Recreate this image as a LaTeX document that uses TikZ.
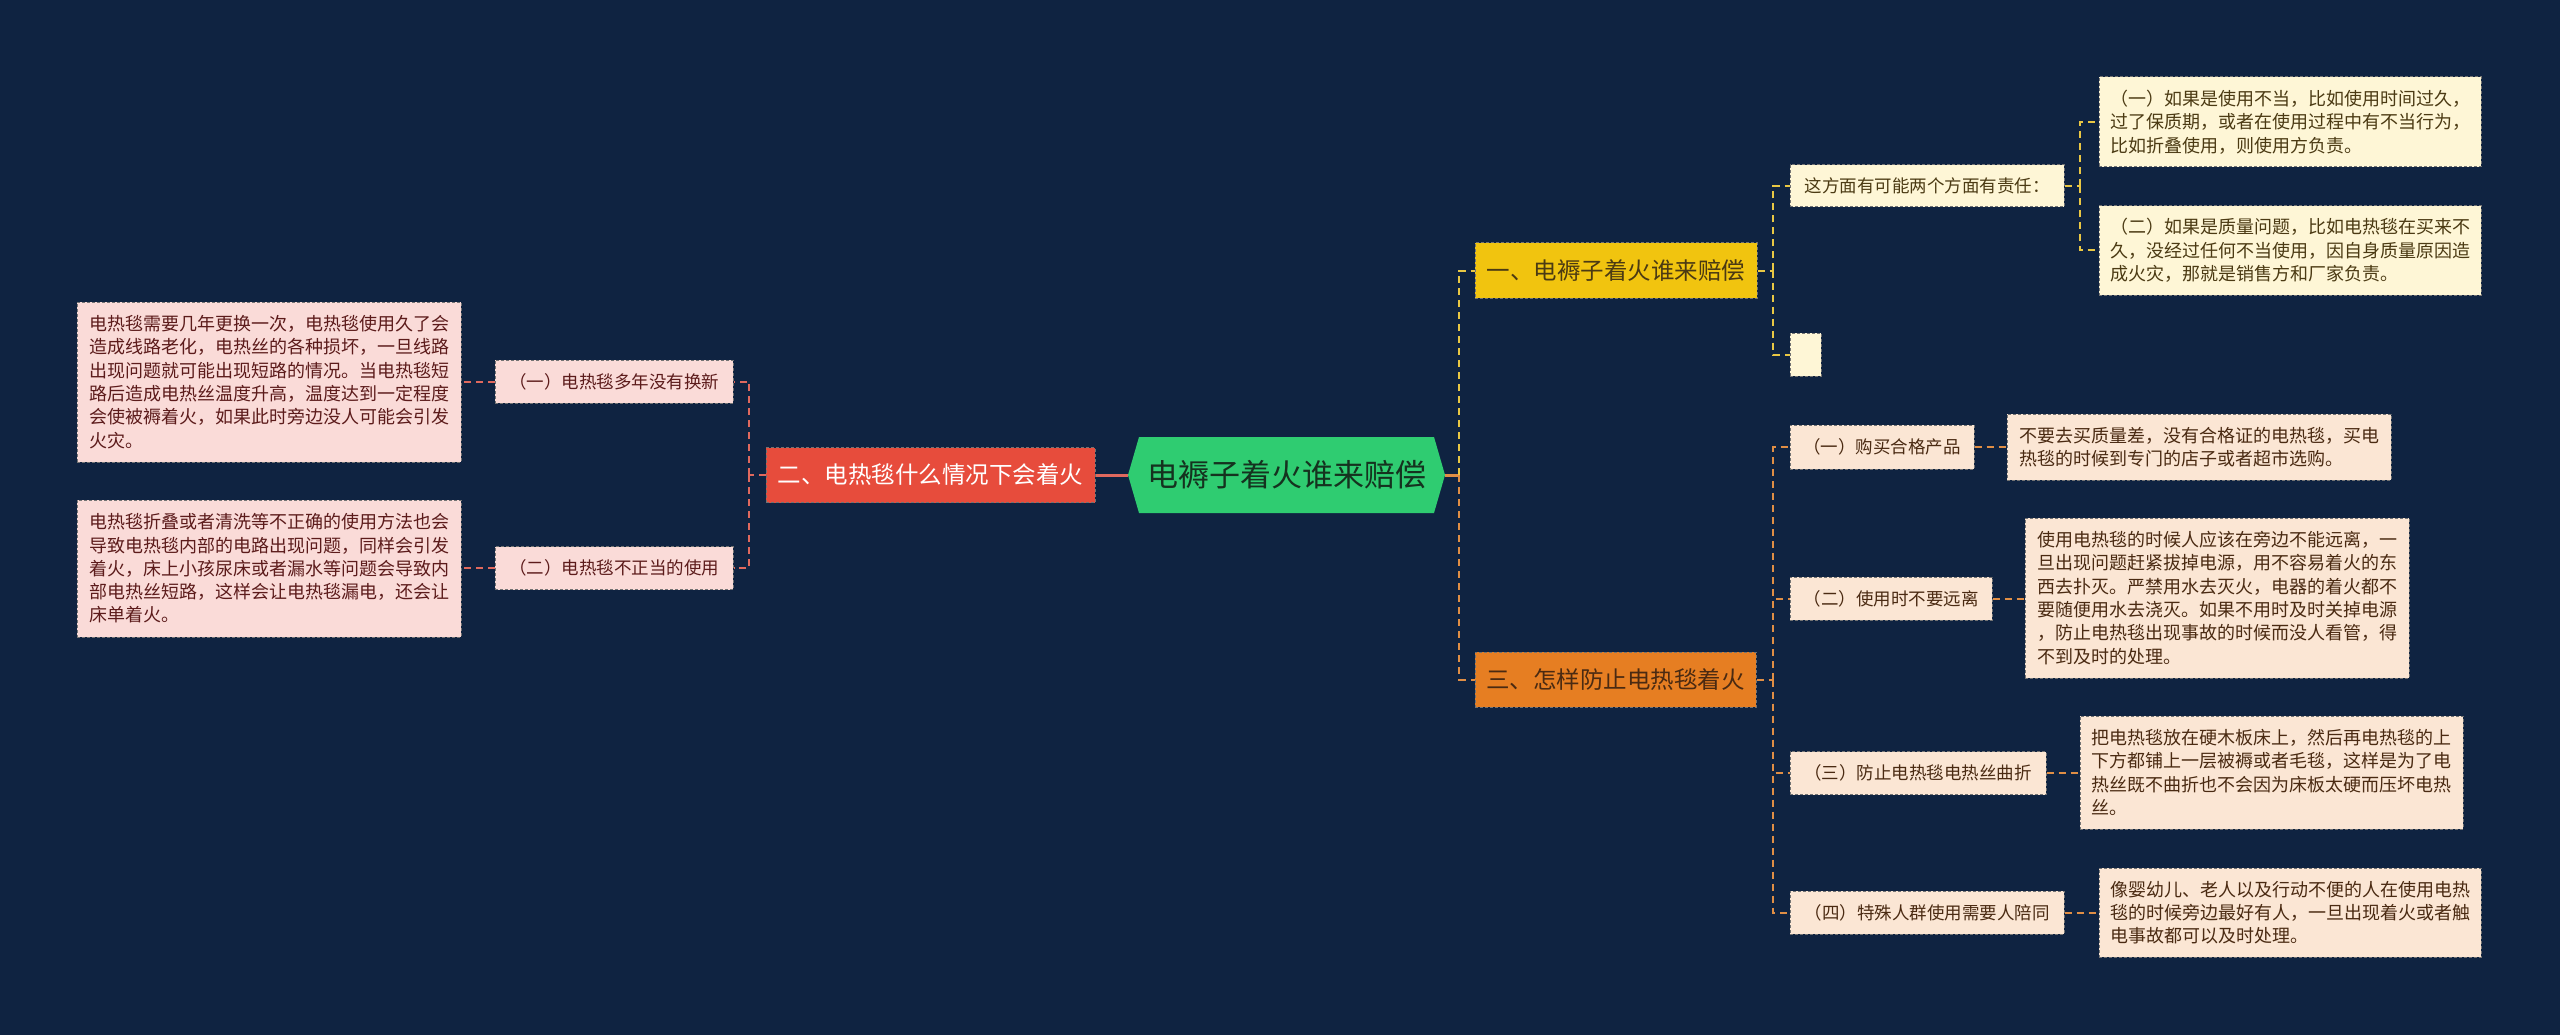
\documentclass[tikz,border=0pt]{standalone}
\usepackage{fontspec}
\setmainfont{Noto Sans CJK SC}
\usetikzlibrary{calc}
\definecolor{bg}{HTML}{0F2341}
\definecolor{cgreen}{HTML}{2FCC71}
\definecolor{cred}{HTML}{E74C3C}
\definecolor{cyellow}{HTML}{F1C40F}
\definecolor{corange}{HTML}{E67E22}
\definecolor{fpink}{HTML}{FADBD8}
\definecolor{fyellow}{HTML}{FEF6D6}
\definecolor{forange}{HTML}{FBE6D4}
\definecolor{tpink}{HTML}{5C1B1B}
\definecolor{tyellow}{HTML}{4B3A13}
\definecolor{torange}{HTML}{4A2A12}
\definecolor{troot}{HTML}{15321F}
\definecolor{lred}{HTML}{E0695E}
\definecolor{lyellow}{HTML}{E9C744}
\definecolor{lorange}{HTML}{E08E45}
\tikzset{
  brd/.style={draw=black!55, dash pattern=on 3pt off 2pt, line width=1pt},
  lvlone/.style={brd, minimum height=55pt, inner sep=2pt, font=\fontsize{23.5}{28}\selectfont},
  lab/.style={brd, minimum height=43pt, inner sep=2pt, font=\fontsize{17.5}{22}\selectfont},
  detail/.style={brd, inner sep=2pt, align=left, font=\fontsize{18}{23.3}\selectfont},
  pinkbox/.style={fill=fpink, text=tpink},
  ybox/.style={fill=fyellow, text=tyellow},
  obox/.style={fill=forange, text=torange},
  link/.style={line width=2pt, dash pattern=on 7pt off 5pt},
  rlink/.style={link, draw=lred},
  ylink/.style={link, draw=lyellow},
  olink/.style={link, draw=lorange},
}
\begin{document}
\begin{tikzpicture}[x=1pt,y=-1pt]
\fill[bg] (0,0) rectangle (2560,1035);
\useasboundingbox (0,0) rectangle (2560,1035);

% root hexagon
\fill[cgreen] (1128,475) -- (1139,437) -- (1434,437) -- (1445,475) -- (1434,513) -- (1139,513) -- cycle;
\node[font=\fontsize{31}{36}\selectfont, text=troot, minimum width=317pt, minimum height=76pt, inner sep=0pt] (root) at (1286.5,475) {电褥子着火谁来赔偿};

% left branch
\node[lvlone, fill=cred, text=white, minimum width=329pt] (red) at (930.5,475) {二、电热毯什么情况下会着火};
\node[lab, pinkbox, minimum width=238pt] (L1) at (614,381.5) {（一）电热毯多年没有换新};
\node[lab, pinkbox, minimum width=238pt] (L2) at (614,568) {（二）电热毯不正当的使用};
\node[detail, pinkbox, minimum width=384pt, minimum height=160pt] (A1) at (269,382) {电热毯需要几年更换一次，电热毯使用久了会\\造成线路老化，电热丝的各种损坏，一旦线路\\出现问题就可能出现短路的情况。当电热毯短\\路后造成电热丝温度升高，温度达到一定程度\\会使被褥着火，如果此时旁边没人可能会引发\\火灾。};
\node[detail, pinkbox, minimum width=384pt, minimum height=137pt] (A2) at (269,568.5) {电热毯折叠或者清洗等不正确的使用方法也会\\导致电热毯内部的电路出现问题，同样会引发\\着火，床上小孩尿床或者漏水等问题会导致内\\部电热丝短路，这样会让电热毯漏电，还会让\\床单着火。};

% right top branch
\node[lvlone, fill=cyellow, text=tyellow, minimum width=282pt] (Y) at (1616,270.5) {一、电褥子着火谁来赔偿};
\node[lab, ybox, minimum width=274pt, minimum height=42pt] (Q) at (1927,186) {这方面有可能两个方面有责任：};
\node[lab, ybox, minimum width=31pt, minimum height=43pt, inner sep=0pt] (blank) at (1805.5,354.5) {};
\node[detail, ybox, minimum width=382pt, minimum height=90pt] (Y1) at (2290,122) {（一）如果是使用不当，比如使用时间过久，\\过了保质期，或者在使用过程中有不当行为，\\比如折叠使用，则使用方负责。};
\node[detail, ybox, minimum width=382pt, minimum height=89pt] (Y2) at (2290,250.5) {（二）如果是质量问题，比如电热毯在买来不\\久，没经过任何不当使用，因自身质量原因造\\成火灾，那就是销售方和厂家负责。};

% right bottom branch
\node[lvlone, fill=corange, text=torange, minimum width=281pt] (O) at (1615.5,679.5) {三、怎样防止电热毯着火};
\node[lab, obox, minimum width=184pt, minimum height=44pt] (O1) at (1882,447) {（一）购买合格产品};
\node[lab, obox, minimum width=202pt] (O2) at (1891,598.5) {（二）使用时不要远离};
\node[lab, obox, minimum width=256pt] (O3) at (1918,773) {（三）防止电热毯电热丝曲折};
\node[lab, obox, minimum width=274pt] (O4) at (1927,912.5) {（四）特殊人群使用需要人陪同};
\node[detail, obox, minimum width=384pt, minimum height=66pt] (O1d) at (2199,447) {不要去买质量差，没有合格证的电热毯，买电\\热毯的时候到专门的店子或者超市选购。};
\node[detail, obox, minimum width=384pt, minimum height=160pt] (O2d) at (2217,598) {使用电热毯的时候人应该在旁边不能远离，一\\旦出现问题赶紧拔掉电源，用不容易着火的东\\西去扑灭。严禁用水去灭火，电器的着火都不\\要随便用水去浇灭。如果不用时及时关掉电源\\，防止电热毯出现事故的时候而没人看管，得\\不到及时的处理。};
\node[detail, obox, minimum width=383pt, minimum height=113pt] (O3d) at (2271.5,772.5) {把电热毯放在硬木板床上，然后再电热毯的上\\下方都铺上一层被褥或者毛毯，这样是为了电\\热丝既不曲折也不会因为床板太硬而压坏电热\\丝。};
\node[detail, obox, minimum width=382pt, minimum height=89pt] (O4d) at (2290,912.5) {像婴幼儿、老人以及行动不便的人在使用电热\\毯的时候旁边最好有人，一旦出现着火或者触\\电事故都可以及时处理。};

% hubs
\coordinate (rh) at (749,475);
\coordinate (mh) at (1459,475);
\coordinate (yh) at (1773,270.5);
\coordinate (qh) at (2080,186);
\coordinate (oh) at (1773,679.5);

% connectors
\draw[line width=3pt, draw=lred] (root.west) -- (red.east);
\draw[line width=3pt, draw=lorange] (root.east) -- (mh);
\draw[rlink] (red.west) -- (rh);
\draw[rlink] (rh) |- (L1.east);
\draw[rlink] (rh) |- (L2.east);
\draw[rlink] (L1.west) -- (A1.east |- L1.west);
\draw[rlink] (L2.west) -- (A2.east |- L2.west);

\draw[ylink] (mh) |- (Y.west);
\draw[olink] (mh) |- (O.west);

\draw[ylink] (Y.east) -- (yh);
\draw[ylink] (yh) |- (Q.west);
\draw[ylink] (yh) |- (blank.west);
\draw[ylink] (Q.east) -- (qh);
\draw[ylink] (qh) |- (Y1.west);
\draw[ylink] (qh) |- (Y2.west);

\draw[olink] (O.east) -- (oh);
\draw[olink] (oh) |- (O1.west);
\draw[olink] (oh) |- (O2.west);
\draw[olink] (oh) |- (O3.west);
\draw[olink] (oh) |- (O4.west);
\draw[olink] (O1.east) -- (O1d.west |- O1.east);
\draw[olink] (O2.east) -- (O2d.west |- O2.east);
\draw[olink] (O3.east) -- (O3d.west |- O3.east);
\draw[olink] (O4.east) -- (O4d.west |- O4.east);
\end{tikzpicture}
\end{document}
